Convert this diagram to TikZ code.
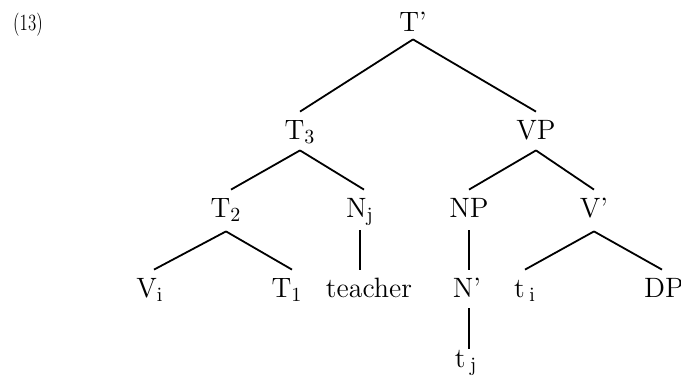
\documentclass[tikz,border=0pt]{standalone}
\usepackage{graphicx}
\begin{document}
\begin{tikzpicture}[x=0.5pt,y=-0.5pt,
  lbl/.style={anchor=base,inner sep=0pt,text height=13.5pt,text depth=5.5pt,
    font=\fontsize{14}{16}\selectfont},
  lowlbl/.style={lbl,text height=9pt},
  edge/.style={line width=0.9pt}]
\useasboundingbox (0,0) rectangle (681,376);
\node[anchor=base,inner sep=0pt] (ex) at (28,30)
  {\scalebox{0.73}[1]{\fontsize{11.6}{14}\selectfont (13)}};
\node[lbl,text depth=4pt] (Tp) at (413,31) {T'};
\node[lbl] (T3) at (300,139) {T$_3$};
\node[lbl] (VP) at (536,139) {VP};
\node[lbl,text depth=7pt] (T2) at (226,217) {T$_2$};
\node[lbl,text depth=6.5pt] (Nj) at (360,217) {N$_{\mathrm{j}}$};
\node[lbl,text depth=6.5pt] (NP) at (469,217) {NP};
\node[lbl,text depth=7pt] (Vb) at (594,217) {V'};
\node[lbl] (Vi) at (150,297) {V$_{\mathrm{i}}$};
\node[lbl] (T1) at (287,297) {T$_1$};
\node[lbl] (teacher) at (369,297) {teacher};
\node[lbl] (Nb) at (467,297) {N'};
\node[lbl] (ti) at (525,297) {t\,$_{\mathrm{i}}$};
\node[lbl] (DP) at (664,297) {DP};
\node[lowlbl] (tj) at (466,367) {t\,$_{\mathrm{j}}$};
\draw[edge] (Tp.south) -- (T3.north);
\draw[edge] (Tp.south) -- (VP.north);
\draw[edge] (T3.south) -- ([xshift=2.5pt]T2.north);
\draw[edge] (T3.south) -- ([xshift=2pt]Nj.north);
\draw[edge] (VP.south) -- (NP.north);
\draw[edge] (VP.south) -- (Vb.north);
\draw[edge] (T2.south) -- ([xshift=2pt]Vi.north);
\draw[edge] (T2.south) -- ([xshift=2.5pt]T1.north);
\draw[edge] (Nj.south) -- (Nj.south |- teacher.north);
\draw[edge] (NP.south) -- (Nb.north -| NP.south);
\draw[edge] (Vb.south) -- (ti.north);
\draw[edge] (Vb.south) -- ([xshift=-1pt]DP.north);
\draw[edge] (Nb.south -| NP.south) -- (tj.north -| NP.south);
\end{tikzpicture}
\end{document}
